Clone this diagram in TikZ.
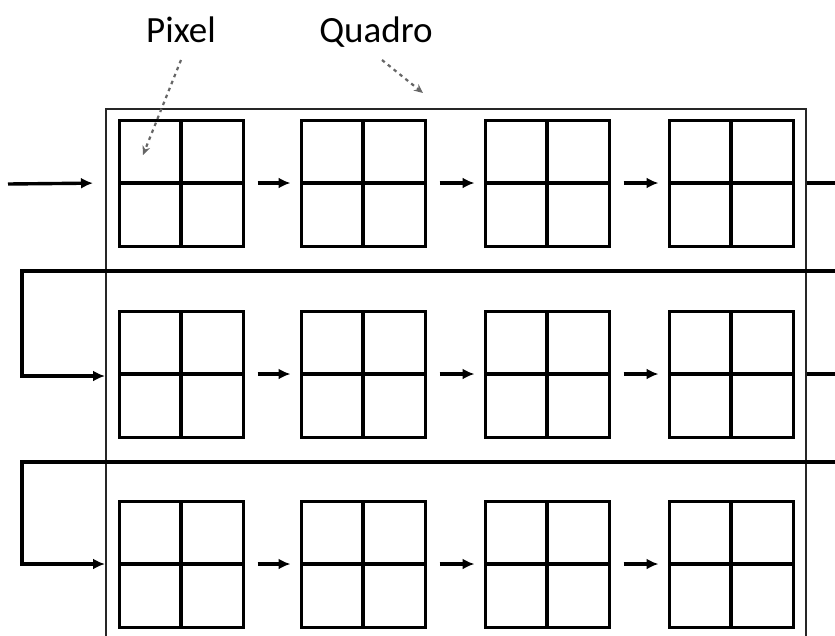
\documentclass[tikz,border=0pt]{standalone}
\usepackage{fontspec}
\setmainfont{Carlito}
\usetikzlibrary{arrows.meta,positioning}

\begin{document}
\begin{tikzpicture}[
  x=1pt, y=-1pt,
  cell/.style={draw, line width=3pt, minimum width=124pt, minimum height=126pt,
               inner sep=0pt,
               path picture={\draw[line width=3.4pt]
                 (path picture bounding box.north) -- (path picture bounding box.south)
                 (path picture bounding box.west) -- (path picture bounding box.east);}},
  frame/.style={draw, line width=1.6pt, black!85, inner sep=0pt, anchor=north west,
                minimum width=700pt, minimum height=560pt},
  lbl/.style={font=\fontsize{37}{40}\selectfont, inner sep=0pt, anchor=base},
  ar/.style={-{Latex[length=12pt, width=11pt]}, line width=3.4pt},
  link/.style={ar, shorten <=13pt, shorten >=9pt},
  flow/.style={ar, line width=3.6pt},
  hint/.style={-{Stealth[length=9pt, width=8pt]}, line width=2.2pt, black!60,
               dash pattern=on 3.5pt off 4pt}
]
\clip (0,0) rectangle (835,635);
\fill[white] (0,0) rectangle (835,635);

% frame around all the cells
\node[frame] (quadro) at (105,108) {};

% three rows of 2x2 cells
\node[cell] (b11) at (181,183) {};
\node[cell] (b12) at (363,183) {};
\node[cell] (b13) at (547,183) {};
\node[cell] (b14) at (731,183) {};

\node[cell] (b21) at (181,374) {};
\node[cell] (b22) at (363,374) {};
\node[cell] (b23) at (547,374) {};
\node[cell] (b24) at (731,374) {};

\node[cell] (b31) at (181,564) {};
\node[cell] (b32) at (363,564) {};
\node[cell] (b33) at (547,564) {};
\node[cell] (b34) at (731,564) {};

% labels
\node[lbl] (pixel) at (181,42) {Pixel};
\node[lbl] (quadrolbl) at (376,42) {Quadro};

\coordinate (pixtip) at (143,155);
\coordinate (quadtip) at (423,93);
\draw[hint] ([yshift=-18pt]pixel.base) -- (pixtip);
\draw[hint] ([xshift=6pt, yshift=-18pt]quadrolbl.base) -- (quadtip);

% scan order
\coordinate (start) at (8,184);
\coordinate (back1) at (850,271);
\coordinate (turn1) at (22,271);
\coordinate (back2) at (850,462);
\coordinate (turn2) at (22,462);

\draw[ar, shorten >=12pt] (start) -- (quadro.west |- b11);
\draw[link] (b11) -- (b12);
\draw[link] (b12) -- (b13);
\draw[link] (b13) -- (b14);
\draw[flow] (quadro.east |- b14) -| (back1) -- (turn1) |- ([yshift=-2pt]quadro.west |- b21);

\draw[link] (b21) -- (b22);
\draw[link] (b22) -- (b23);
\draw[link] (b23) -- (b24);
\draw[flow] (quadro.east |- b24) -| (back2) -- (turn2) |- (quadro.west |- b31);

\draw[link] (b31) -- (b32);
\draw[link] (b32) -- (b33);
\draw[link] (b33) -- (b34);

\end{tikzpicture}
\end{document}
